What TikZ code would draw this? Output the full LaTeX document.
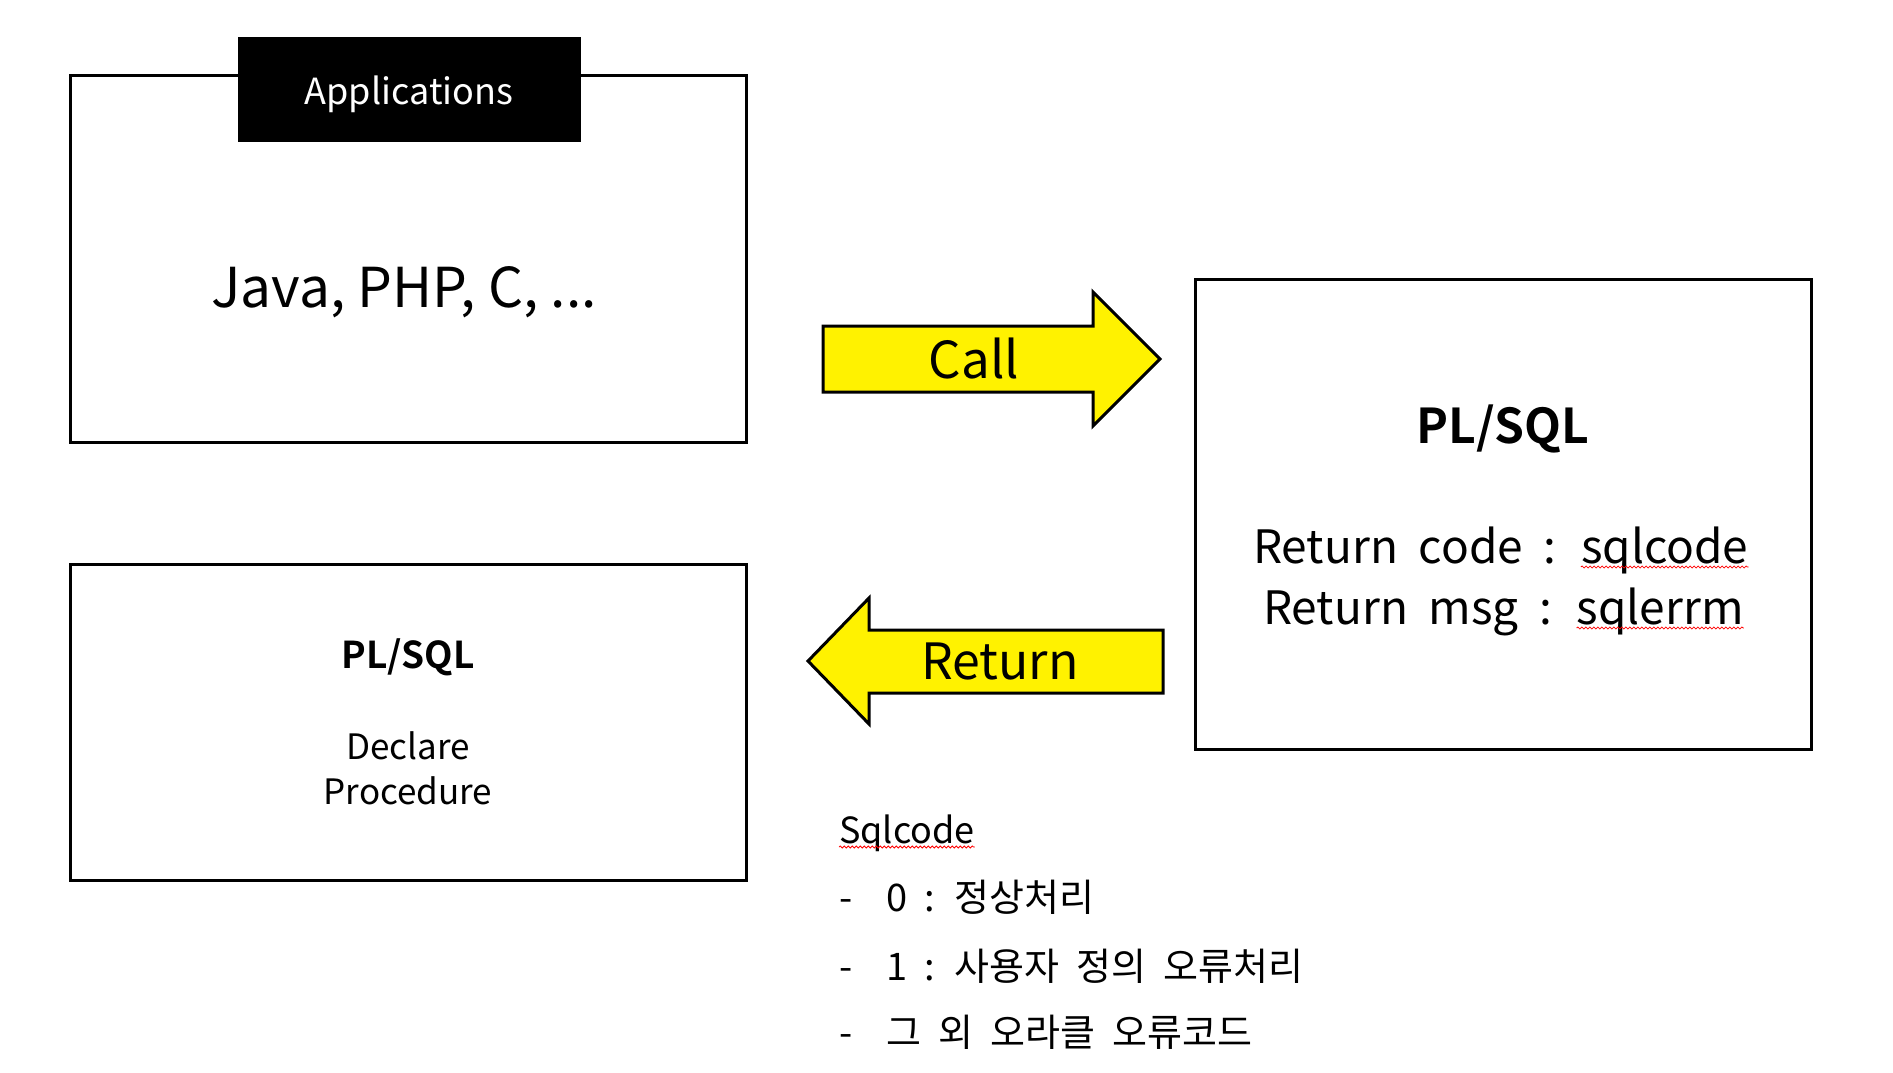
\documentclass[tikz,border=0pt]{standalone}
\usepackage{fontspec}
\setmainfont{Noto Sans CJK KR}[BoldFont={Noto Sans CJK KR Bold}]
\usetikzlibrary{positioning, decorations.pathmorphing}
\newcommand{\widespace}{\spaceskip 0.45em\relax}
\tikzset{
    box/.style={draw,line width=3pt,minimum width=676pt,inner sep=0pt},
    tagbox/.style={fill=black,text=white,minimum width=343pt,minimum height=105pt,inner sep=0pt},
    yarrow/.style={draw,line width=3pt,fill=yellow,line join=miter},
    txt/.style={inner sep=0pt,anchor=base},
    fsz/.style={font=\fontsize{#1}{#1}\selectfont},
    wfsz/.style={font=\fontsize{#1}{#1}\selectfont\widespace},
    bfsz/.style={font=\fontsize{#1}{#1}\selectfont\bfseries},
    spell/.style={draw=red,line width=0.8pt,decorate,decoration={snake,amplitude=1pt,segment length=4pt}},
}
\begin{document}
\begin{tikzpicture}[x=1pt,y=-1pt]
\useasboundingbox (0,0) rectangle (1893,1072);
% left column
\node[box,minimum height=367pt] (app) at (408,258.5) {};
\node[tagbox] (apptag) at (409,89.5) {};
\node[txt,fsz=36,text=white] (applbl) at (409,104) {Applications};
\node[txt,fsz=55] (langs) at (404,307) {Java, PHP, C, ...};
\node[box,minimum height=316pt] (decl) at (408,722) {};
\node[txt,bfsz=37] (dtitle) at (408,668) {PL/SQL};
\node[txt,fsz=35] (dline1) at (408,759) {Declare};
\node[txt,fsz=35] (dline2) at (408,804) {Procedure};
% right box
\node[box,minimum width=616pt,minimum height=470pt] (plsql) at (1503,514) {};
\node[txt,bfsz=48] (ptitle) at (1503,443) {PL/SQL};
\node[txt,wfsz=46,anchor=base west] (rcode) at (1253,563) {Return code : \mbox{}};
\node[txt,wfsz=46,anchor=base west] (rcodew) at (rcode.base east) {sqlcode};
\node[txt,wfsz=46,anchor=base west] (rmsg) at (1263,624) {Return msg : \mbox{}};
\node[txt,wfsz=46,anchor=base west] (rmsgw) at (rmsg.base east) {sqlerrm};
\draw[spell] ([yshift=-4pt]rcodew.base west) -- ([yshift=-4pt]rcodew.base east);
\draw[spell] ([yshift=-4pt]rmsgw.base west) -- ([yshift=-4pt]rmsgw.base east);
% block arrows
\draw[yarrow] (823,326) -- (1093,326) -- (1093,292) -- (1160,359)
    -- (1093,426) -- (1093,392) -- (823,392) -- cycle;
\node[txt,fsz=51] (call) at (974,378) {Call};
\draw[yarrow] (1163,630) -- (869,630) -- (869,598) -- (808,661)
    -- (869,724) -- (869,693) -- (1163,693) -- cycle;
\node[txt,fsz=50] (ret) at (1000,679) {Return};
% sqlcode list
\node[txt,anchor=base west,fsz=36] (sc) at (839,843) {Sqlcode};
\draw[spell] ([yshift=-4pt]sc.base west) -- ([yshift=-4pt]sc.base east);
\node[txt,anchor=base west,wfsz=38] (sc0) at (839,911) {\makebox[47pt][l]{-}0 : 정상처리};
\node[txt,anchor=base west,wfsz=38] (sc1) at (839,980) {\makebox[47pt][l]{-}1 : 사용자 정의 오류처리};
\node[txt,anchor=base west,wfsz=38] (sc2) at (839,1046) {\makebox[47pt][l]{-}그 외 오라클 오류코드};
\end{tikzpicture}
\end{document}
